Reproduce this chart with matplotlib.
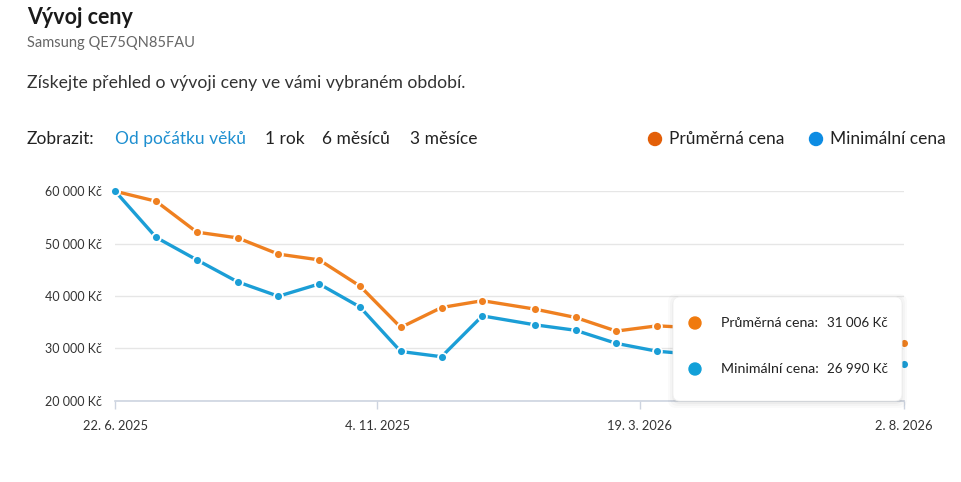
import matplotlib
matplotlib.use('Agg')
from matplotlib import pyplot as plt
from matplotlib import transforms as mtransforms
from matplotlib.patches import FancyBboxPatch, Circle
import pandas as pd

W, H = 961, 482

dates = ['2025-06-22', '2025-07-13', '2025-08-03', '2025-08-24', '2025-09-14',
         '2025-10-05', '2025-10-26', '2025-11-16', '2025-12-07', '2025-12-28',
         '2026-01-24', '2026-02-14', '2026-03-07', '2026-03-28', '2026-04-18',
         '2026-05-09', '2026-05-30', '2026-06-20', '2026-07-11', '2026-08-02']
avg_price = [60000, 58100, 52200, 51100, 48000, 46900, 41900, 34000, 37800, 39100,
             37500, 35900, 33300, 34300, 33900, 33200, 32600, 32100, 31600, 31006]
min_price = [59990, 51200, 46900, 42700, 39950, 42300, 37900, 29400, 28400, 36200,
             34500, 33450, 30950, 29450, 28800, 28300, 27900, 27500, 27200, 26990]

tick_dates = ['2025-06-22', '2025-11-04', '2026-03-19', '2026-08-02']
tick_labels = ['22. 6. 2025', '4. 11. 2025', '19. 3. 2026', '2. 8. 2026']
y_ticks = [20000, 30000, 40000, 50000, 60000]
ranges = ['Od počátku věků', '1 rok', '6 měsíců', '3 měsíce']
series_names = ['Průměrná cena', 'Minimální cena']

ORANGE = '#ef8020'
BLUE = '#1b9ed6'
FONT = 'Lato'

plt.rcParams['font.family'] = [FONT, 'DejaVu Sans']

fig = plt.figure(figsize=(W / 100, H / 100), dpi=100)
pix = mtransforms.Affine2D().scale(1 / W, -1 / H).translate(0, 1) + fig.transFigure


def txt(x, y, s, **kw):
    kw.setdefault('va', 'center')
    kw.setdefault('color', '#222222')
    fig.text(x, y, s, transform=pix, **kw)


# header
txt(27, 17, 'Vývoj ceny', fontsize=15.5, fontweight='bold', color='#1a1a1a')
txt(27, 43, 'Samsung QE75QN85FAU', fontsize=10.5, color='#666666')
txt(27, 83, 'Získejte přehled o vývoji ceny ve vámi vybraném období.', fontsize=12.7, color='#333333')

txt(27, 139, 'Zobrazit:', fontsize=12.5)
range_x = [115, 265, 322, 410]
for i, r in enumerate(ranges):
    txt(range_x[i], 139, r, fontsize=12.5, color='#1e8fd0' if i == 0 else '#222222')

# legend
leg_colors = ['#e35f08', '#0d8ce3']
leg_x = [655, 816]
for i, name in enumerate(series_names):
    fig.patches.append(Circle((leg_x[i], 139), 6.5, transform=pix, color=leg_colors[i]))
    txt(leg_x[i] + 14, 139, name, fontsize=12.5)

# chart
x = pd.to_datetime(dates)
ax = fig.add_axes([115.3 / W, 1 - 400.7 / H, 788.4 / W, 209.4 / H])
ax.plot(x, avg_price, color=ORANGE, lw=2.4, marker='o', ms=6.4, mfc=ORANGE,
        mec='white', mew=1.3, clip_on=False, zorder=3)
ax.plot(x, min_price, color=BLUE, lw=2.4, marker='o', ms=6.4, mfc=BLUE,
        mec='white', mew=1.3, clip_on=False, zorder=3)

ax.set_xlim(x[0], x[-1])
ax.set_ylim(20000, 60000)
ax.set_yticks(y_ticks)
ax.set_yticklabels([f'{v:,} Kč'.replace(',', ' ') for v in y_ticks])
ax.set_xticks(pd.to_datetime(tick_dates))
ax.set_xticklabels(tick_labels)
ax.grid(axis='y', color='#e6e6e6', lw=1)
ax.set_axisbelow(True)
for s in ['top', 'right', 'left']:
    ax.spines[s].set_visible(False)
ax.spines['bottom'].set_color('#cdd4e0')
ax.spines['bottom'].set_linewidth(1.2)
ax.tick_params(axis='y', length=0, pad=9.5, labelsize=9.0, labelcolor='#333333')
ax.tick_params(axis='x', length=6, width=1, color='#cdd4e0', pad=8,
               labelsize=9.3, labelcolor='#333333')

# tooltip
for k, a in enumerate([0.035, 0.03, 0.025, 0.02]):
    sh = 2 + 2 * k
    fig.patches.append(FancyBboxPatch((673 - sh + 3, 297 - sh + 5), 229 + 2 * sh - 6, 104 + 2 * sh - 6,
                                      boxstyle='round,pad=0,rounding_size=8', transform=pix,
                                      facecolor='black', edgecolor='none', alpha=a))
fig.patches.append(FancyBboxPatch((673, 297), 229, 104, boxstyle='round,pad=0,rounding_size=7',
                                  transform=pix, facecolor='white', edgecolor='#f0f0f0', lw=0.6))
tip_colors = ['#f07a0e', '#12a0d8']
tip_vals = [avg_price[-1], min_price[-1]]
for i, name in enumerate(series_names):
    yy = 323 + 46 * i
    fig.patches.append(Circle((695, yy), 6, transform=pix, color=tip_colors[i]))
    txt(721, yy, name + ':', fontsize=10.2)
    txt(888, yy, f'{tip_vals[i]:,} Kč'.replace(',', ' '), fontsize=9.6, ha='right')

fig.savefig('out.png', dpi=100, facecolor='white')
